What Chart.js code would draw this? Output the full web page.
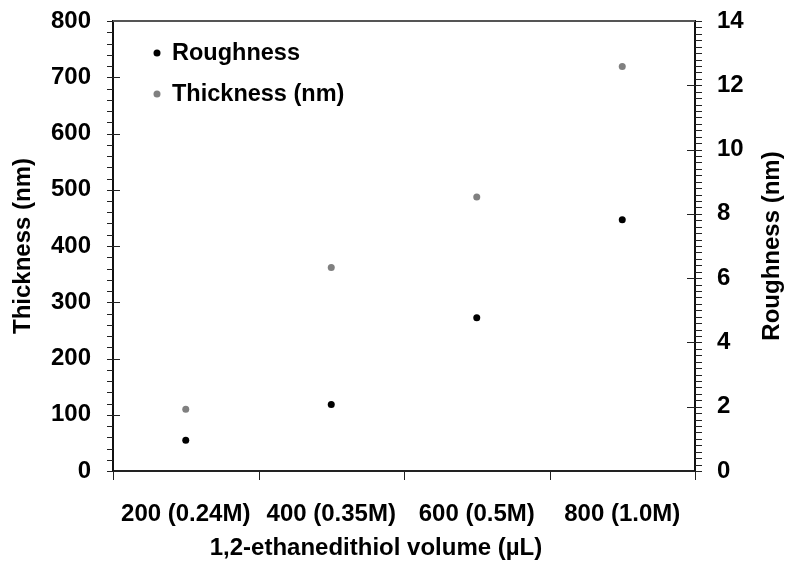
<!DOCTYPE html>
<html>
<head>
<meta charset="utf-8">
<script src="https://cdn.jsdelivr.net/npm/chart.js@4.4.1/dist/chart.umd.min.js"></script>
<style>
  html, body { margin: 0; padding: 0; background: #fff; }
  #wrap { width: 786px; height: 571px; }
</style>
</head>
<body>
<div id="wrap"><canvas id="filmChart"></canvas></div>
<script>
const volumes = ['200 (0.24M)', '400 (0.35M)', '600 (0.5M)', '800 (1.0M)'];
const roughness = [0.96, 2.07, 4.77, 7.82];
const thickness = [110, 362, 487, 719];
const thicknessTicks = [0, 100, 200, 300, 400, 500, 600, 700, 800];
const roughnessTicks = [0, 2, 4, 6, 8, 10, 12, 14];

const fontFamily = "'Liberation Sans', Arial, sans-serif";

// tick marks: majors point into the plot, minors point out
const axisMarks = {
  id: 'axisMarks',
  afterDraw(chart) {
    const {ctx, chartArea: a, scales} = chart;
    const line = (x1, y1, x2, y2) => {
      ctx.beginPath();
      ctx.moveTo(x1, y1);
      ctx.lineTo(x2, y2);
      ctx.stroke();
    };
    ctx.save();
    ctx.lineWidth = 1;
    ctx.strokeStyle = '#222';
    for (let v = 0; v <= 800; v += 20) {
      const p = Math.round(scales.y.getPixelForValue(v)) + 0.5;
      line(a.left - 6, p, a.left, p);
    }
    thicknessTicks.forEach(v => {
      const p = Math.round(scales.y.getPixelForValue(v)) + 0.5;
      line(a.left - 3, p, a.left + 7, p);
    });
    for (let i = 0; i <= 70; i++) {
      const p = Math.round(scales.y1.getPixelForValue(i * 0.2)) + 0.5;
      line(a.right, p, a.right + 7, p);
    }
    roughnessTicks.forEach(v => {
      const p = Math.round(scales.y1.getPixelForValue(v)) + 0.5;
      line(a.right - 8, p, a.right, p);
    });
    const step = (a.right - a.left) / volumes.length;
    for (let i = 0; i <= volumes.length; i++) {
      const x = Math.round(a.left + i * step) + 0.5;
      line(x, a.bottom, x, a.bottom + 9);
    }
    // top frame line
    ctx.strokeStyle = '#555';
    ctx.lineWidth = 2;
    line(a.left, a.top, a.right, a.top);

    // right axis title reads bottom-to-top like the left one
    ctx.fillStyle = '#000';
    ctx.font = 'bold 24px ' + fontFamily;
    ctx.textAlign = 'center';
    ctx.textBaseline = 'middle';
    ctx.save();
    ctx.translate(772, (a.top + a.bottom) / 2);
    ctx.rotate(-Math.PI / 2);
    ctx.fillText('Roughness (nm)', 0, 0);
    ctx.restore();
    // x axis title sits a bit left of centre in the original
    ctx.fillText('1,2-ethanedithiol volume (µL)', 376, 548);
    ctx.restore();
  }
};

const insideLegend = {
  id: 'insideLegend',
  afterDraw(chart) {
    const {ctx, chartArea: a} = chart;
    ctx.save();
    ctx.font = 'bold 23.5px ' + fontFamily;
    ctx.textAlign = 'left';
    ctx.textBaseline = 'middle';
    chart.data.datasets.forEach((ds, i) => {
      const y = a.top + 32 + i * 41;
      ctx.fillStyle = ds.backgroundColor;
      ctx.beginPath();
      ctx.arc(a.left + 44, y, 3.5, 0, Math.PI * 2);
      ctx.fill();
      ctx.fillStyle = '#000';
      ctx.fillText(ds.label, a.left + 59, y + 1);
    });
    ctx.restore();
  }
};

const ctx = document.getElementById('filmChart').getContext('2d');
const filmChart = new Chart(ctx, {
  type: 'line',
  data: {
    labels: volumes,
    datasets: [{
      label: 'Roughness',
      data: roughness,
      yAxisID: 'y1',
      showLine: false,
      backgroundColor: '#000',
      borderColor: '#000',
      pointRadius: 3.5,
      pointBorderWidth: 0
    }, {
      label: 'Thickness (nm)',
      data: thickness,
      yAxisID: 'y',
      showLine: false,
      backgroundColor: '#808080',
      borderColor: '#808080',
      pointRadius: 3.5,
      pointBorderWidth: 0
    }]
  },
  options: {
    responsive: true,
    maintainAspectRatio: false,
    animation: false,
    layout: { padding: { top: 21, left: 0, right: 0, bottom: 0 } },
    plugins: {
      legend: { display: false },
      tooltip: { enabled: false }
    },
    scales: {
      x: {
        type: 'category',
        offset: true,
        grid: { display: false, drawTicks: false },
        border: { display: true, color: '#222', width: 2 },
        ticks: {
          padding: 29,
          maxRotation: 0,
          color: '#000',
          font: { family: fontFamily, size: 24, weight: 'bold' }
        },
        afterFit: (scale) => { scale.height = 100; }
      },
      y: {
        position: 'left',
        min: 0,
        max: 800,
        afterBuildTicks: (scale) => { scale.ticks = thicknessTicks.map(v => ({ value: v })); },
        // invisible tick length gives the label gap without padding the top
        grid: { display: false, drawTicks: true, tickLength: 22 },
        border: { display: true, color: '#111', width: 2 },
        ticks: {
          padding: 0,
          color: '#000',
          font: { family: fontFamily, size: 24, weight: 'bold' }
        },
        title: {
          display: true,
          text: 'Thickness (nm)',
          color: '#000',
          padding: { top: 9, bottom: 0 },
          font: { family: fontFamily, size: 24, weight: 'bold' }
        },
        afterFit: (scale) => { scale.width = 113; }
      },
      y1: {
        position: 'right',
        min: 0,
        max: 14,
        afterBuildTicks: (scale) => { scale.ticks = roughnessTicks.map(v => ({ value: v })); },
        grid: { display: false, drawTicks: true, tickLength: 22 },
        border: { display: true, color: '#111', width: 2 },
        ticks: {
          padding: 0,
          color: '#000',
          font: { family: fontFamily, size: 24, weight: 'bold' }
        },
        afterFit: (scale) => { scale.width = 91; }
      }
    }
  },
  plugins: [axisMarks, insideLegend]
});
</script>
</body>
</html>
